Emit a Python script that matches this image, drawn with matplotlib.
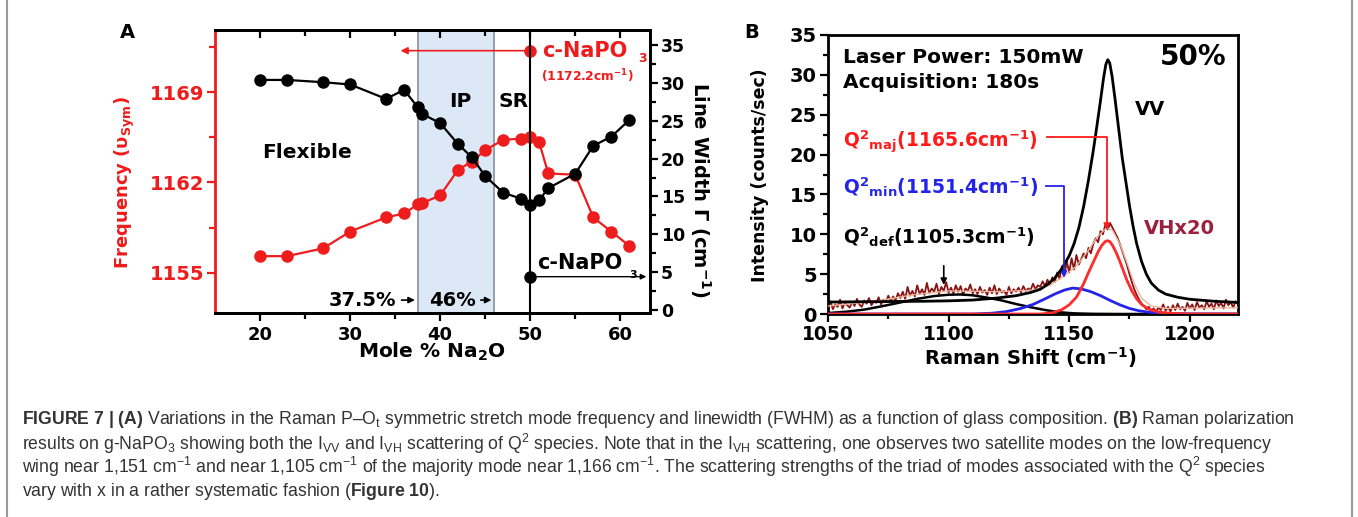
import numpy as np
import matplotlib
matplotlib.use('Agg')
import matplotlib.pyplot as plt
from matplotlib.ticker import FixedLocator, MultipleLocator

plt.rcParams['font.family'] = ['DejaVu Sans']
plt.rcParams['font.weight'] = 'bold'
plt.rcParams['mathtext.fontset'] = 'custom'
plt.rcParams['mathtext.rm'] = 'Liberation Sans:weight=normal'
plt.rcParams['mathtext.it'] = 'Liberation Sans:italic:weight=normal'
plt.rcParams['mathtext.bf'] = 'DejaVu Sans:bold'
plt.rcParams['mathtext.sf'] = 'Liberation Sans:bold'

RED = '#ee1c1c'
BLUE = '#2424e8'
DARKRED = '#8b1212'

# ---- panel A : mode frequency and line width vs composition ----
comp = [20, 23, 27, 30, 34, 36, 37.5, 38, 40, 42, 43.5, 45, 47, 49, 50, 51, 52, 55, 57, 59, 61]
freq = [1156.3, 1156.3, 1156.9, 1158.2, 1159.3, 1159.6, 1160.3, 1160.4, 1161.0, 1163.0, 1163.6,
        1164.5, 1165.3, 1165.4, 1165.5, 1165.1, 1162.7, 1162.6, 1159.3, 1158.2, 1157.1]
width = [30.4, 30.4, 30.1, 29.8, 27.9, 29.1, 26.8, 25.9, 24.7, 21.9, 20.2, 17.7, 15.5, 14.7,
         13.9, 14.5, 16.1, 18.0, 21.7, 22.9, 25.1]
cryst_comp = 50
cryst_freq = 1172.2
cryst_width = 4.4

# ---- panel B : Raman spectra ----
vv_x = [1050, 1070, 1090, 1100, 1110, 1120, 1128, 1134, 1138, 1141, 1144, 1147, 1150, 1152, 1154,
        1156, 1158, 1160, 1161.5, 1163, 1164.2, 1165.2, 1166, 1166.8, 1167.8, 1169, 1170.5, 1172,
        1173.5, 1175, 1176.5, 1178, 1180, 1182, 1184, 1187, 1190, 1195, 1200, 1210, 1220]
vv_y = [1.5, 1.55, 1.6, 1.65, 1.75, 2.0, 2.3, 2.7, 3.1, 3.7, 4.5, 5.7, 7.3, 8.8, 10.8,
        13.5, 16.8, 20.5, 23.6, 26.8, 29.5, 31.3, 31.9, 31.5, 29.8, 27.0, 23.3, 19.6,
        16.6, 13.6, 11.0, 8.8, 6.6, 5.0, 3.9, 3.0, 2.5, 2.1, 1.85, 1.6, 1.45]

vh_x = np.arange(1050, 1221)
vh_y = [0.8, 1.6, 0.6, 1.2, 0.9, 1.8, 0.7, 1.4, 1.1, 0.8,
        1.5, 1.0, 1.9, 1.2, 0.9, 1.7, 1.3, 2.0, 1.1, 1.6,
        1.4, 2.1, 1.2, 1.8, 1.5, 2.3, 1.6, 2.2, 1.7, 2.6,
        2.0, 2.8, 1.9, 3.4, 2.3, 2.9, 2.2, 3.6, 2.5, 3.1,
        2.4, 3.9, 2.6, 3.2, 2.8, 3.8, 2.5, 3.4, 2.9, 4.0,
        2.7, 3.3, 2.6, 3.6, 2.8, 3.5, 2.4, 3.2, 2.9, 3.7,
        2.6, 3.1, 2.5, 3.4, 2.7, 3.0, 2.4, 3.3, 2.6, 3.6,
        2.5, 3.2, 2.7, 2.9, 2.4, 3.4, 2.6, 3.1, 2.8, 3.3,
        2.7, 3.5, 2.9, 3.2, 3.0, 3.8, 3.1, 3.6, 3.4, 4.1,
        3.5, 4.3, 3.7, 4.6, 4.0, 5.2, 4.4, 6.0, 4.8, 6.6,
        5.2, 7.0, 5.6, 7.4, 6.2, 6.9, 7.6, 7.0, 8.3, 7.6,
        8.8, 9.5, 9.0, 10.4, 10.0, 11.2, 10.6, 11.4, 10.8, 10.2,
        9.6, 8.8, 7.9, 7.0, 6.1, 5.0, 4.0, 3.1, 2.4, 1.8,
        1.3, 1.0, 0.6, 0.9, 0.4, 0.7, 0.3, 0.8, 0.5, 1.2,
        0.4, 0.9, 0.3, 1.1, 0.5, 1.3, 0.6, 0.9, 0.4, 1.4,
        0.7, 1.2, 0.5, 1.5, 0.8, 1.1, 0.6, 1.6, 0.9, 1.3,
        0.6, 1.7, 1.0, 1.4, 0.7, 1.8, 1.1, 1.5, 0.8, 1.6,
        1.2]

fit_x = [1050, 1070, 1085, 1100, 1120, 1135, 1142, 1148, 1153, 1158, 1162, 1165.5, 1168, 1171,
         1174, 1177, 1180, 1184, 1190, 1220]
fit_y = [1.0, 1.6, 2.4, 2.9, 2.8, 3.0, 3.6, 4.8, 6.0, 8.0, 9.8, 10.8, 10.5, 8.8,
         6.4, 3.8, 2.0, 1.0, 0.7, 0.8]

def_x = [1050, 1058, 1065, 1072, 1080, 1087, 1094, 1100, 1105, 1110, 1116, 1122, 1128, 1134,
         1140, 1146, 1152, 1160, 1170, 1220]
def_y = [0.12, 0.3, 0.55, 0.95, 1.45, 1.9, 2.25, 2.42, 2.45, 2.35, 2.05, 1.7, 1.25, 0.85,
         0.5, 0.22, 0.08, 0.02, 0.0, 0.0]

min_x = [1050, 1110, 1118, 1124, 1130, 1135, 1140, 1144, 1148, 1151.4, 1155, 1159, 1163, 1167,
         1171, 1175, 1179, 1184, 1190, 1200, 1220]
min_y = [0.0, 0.0, 0.1, 0.3, 0.7, 1.2, 1.9, 2.5, 3.0, 3.25, 3.15, 2.8, 2.3, 1.7,
         1.15, 0.7, 0.4, 0.18, 0.06, 0.0, 0.0]

maj_x = [1050, 1138, 1143, 1147, 1150, 1153, 1156, 1158, 1160, 1162, 1163.5, 1165, 1165.8,
         1166.8, 1168, 1169.5, 1171, 1172.5, 1174, 1176, 1178, 1180, 1183, 1187, 1192, 1200, 1220]
maj_y = [0.0, 0.0, 0.15, 0.55, 1.15, 2.1, 3.8, 5.2, 6.5, 7.8, 8.6, 9.1, 9.2,
         9.1, 8.6, 7.7, 6.6, 5.4, 4.2, 2.9, 1.9, 1.2, 0.6, 0.25, 0.08, 0.0, 0.0]

W, H = 1358, 517
fig = plt.figure(figsize=(W / 100, H / 100), dpi=100)


def box(l, t, r, b):
    return [l / W, 1 - b / H, (r - l) / W, (b - t) / H]


# ================= panel A =================
axA = fig.add_axes(box(215, 30, 650, 313))
axA.set_xlim(15, 63.3)
axA.set_ylim(1151.9, 1173.8)
axA.axvspan(37.5, 46, color='#dde8f6', lw=0, zorder=0)
for xv in (37.5, 46):
    axA.axvline(xv, color='#8c99a6', lw=1.3, zorder=1)
axA.plot(comp, freq, '-o', color=RED, ms=8, lw=1.6, zorder=3)
axA.plot([cryst_comp], [cryst_freq], 'o', color=RED, ms=8, zorder=3)
axA.annotate('', xy=(35.3, cryst_freq), xytext=(cryst_comp, cryst_freq),
             arrowprops=dict(arrowstyle='-|>', color=RED, lw=1.2, mutation_scale=10))

axA.xaxis.set_major_locator(FixedLocator([20, 30, 40, 50, 60]))
axA.xaxis.set_minor_locator(FixedLocator([25, 35, 45, 55]))
axA.yaxis.set_major_locator(FixedLocator([1155, 1162, 1169]))
axA.yaxis.set_minor_locator(FixedLocator([1151.5, 1158.5, 1165.5, 1172.5]))
axA.tick_params(axis='x', which='major', direction='out', length=6, width=1.6, labelsize=13, pad=3)
axA.tick_params(axis='x', which='minor', direction='out', length=4, width=1.6)
axA.tick_params(axis='y', which='major', direction='out', length=6, width=1.6, labelsize=14,
                colors=RED, pad=2)
axA.tick_params(axis='y', which='minor', direction='out', length=4, width=1.6, colors=RED)
for s in axA.spines.values():
    s.set_linewidth(2)
axA.spines['left'].set_color(RED)

axW = axA.twinx()
axW.set_ylim(-0.4, 37)
axW.axvline(cryst_comp, color='k', lw=1.5, zorder=2)
axW.plot(comp, width, '-o', color='k', ms=8, lw=1.6, zorder=4)
axW.plot([cryst_comp], [cryst_width], 'o', color='k', ms=8, zorder=4)
axW.annotate('', xy=(63.2, cryst_width), xytext=(cryst_comp, cryst_width),
             arrowprops=dict(arrowstyle='-|>', color='k', lw=1.0, mutation_scale=8))
axW.yaxis.set_major_locator(MultipleLocator(5))
axW.yaxis.set_minor_locator(MultipleLocator(2.5))
axW.tick_params(axis='y', which='major', direction='out', length=6, width=1.6, labelsize=12.5, pad=2)
axW.tick_params(axis='y', which='minor', direction='out', length=4, width=1.6)
axW.xaxis.set_visible(True)
axW.tick_params(axis='x', which='major', bottom=False, top=True, labelbottom=False,
                labeltop=False, direction='in', length=6, width=1.6)
axW.tick_params(axis='x', which='minor', bottom=False, top=True, direction='in', length=4, width=1.6)
for s in axW.spines.values():
    s.set_linewidth(2)
axW.spines['left'].set_visible(False)

axW.text(42.2, 27.5, 'IP', fontsize=14.5, ha='center', va='center')
axW.text(48.1, 27.5, 'SR', fontsize=14.5, ha='center', va='center')
axA.text(25.2, 1164.3, 'Flexible', fontsize=14.5, ha='center', va='center')
axA.text(51.3, cryst_freq, 'c-NaPO', fontsize=15, color=RED, ha='left', va='center')
axA.text(62.5, 1171.6, '3', fontsize=9, color=RED, ha='center', va='center')
axA.text(51.2, 1170.2, '(1172.2cm$^{\\mathbf{-1}}$)', fontsize=8.8, color=RED, ha='left', va='center')
axW.text(50.8, 6.2, 'c-NaPO', fontsize=15, ha='left', va='center')
axW.text(61.4, 4.6, '3', fontsize=8, ha='center', va='center')
axA.text(31.4, 1152.9, '37.5%', fontsize=14, ha='center', va='center')
axA.annotate('', xy=(37.5, 1152.9), xytext=(35.4, 1152.9),
             arrowprops=dict(arrowstyle='-|>', color='k', lw=1.2, mutation_scale=9))
axA.text(41.4, 1152.9, '46%', fontsize=14, ha='center', va='center')
axA.annotate('', xy=(46, 1152.9), xytext=(44.2, 1152.9),
             arrowprops=dict(arrowstyle='-|>', color='k', lw=1.2, mutation_scale=9))

axA.text(-0.207, 0.46, 'Frequency (υ$_{\\mathbf{Sym}}$)', transform=axA.transAxes, rotation=90,
         fontsize=13, color=RED, ha='center', va='center')
axA.text(1.115, 0.435, 'Line Width Γ (cm$^{\\mathbf{-1}}$)', transform=axA.transAxes, rotation=270,
         fontsize=14, ha='center', va='center')
axA.text(0.499, -0.138, 'Mole % Na$_{\\mathbf{2}}$O', transform=axA.transAxes,
         fontsize=14.5, ha='center', va='center')

# ================= panel B =================
axB = fig.add_axes(box(828, 35, 1238, 314))
axB.set_xlim(1050, 1220)
axB.set_ylim(0, 35)
axB.plot(vh_x, vh_y, color=DARKRED, lw=1.3, zorder=2)
axB.plot(fit_x, fit_y, color='#e9b49a', lw=1.0, zorder=3)
axB.plot(def_x, def_y, color='k', lw=1.8, zorder=4)
axB.plot(min_x, min_y, color=BLUE, lw=2, zorder=4)
axB.plot(maj_x, maj_y, color='#ff2a2a', lw=2, zorder=4)
axB.plot(vv_x, vv_y, color='k', lw=2, zorder=5)

axB.xaxis.set_major_locator(MultipleLocator(50))
axB.xaxis.set_minor_locator(MultipleLocator(25))
axB.yaxis.set_major_locator(MultipleLocator(5))
axB.yaxis.set_minor_locator(MultipleLocator(2.5))
axB.tick_params(axis='x', which='major', direction='out', length=6, width=1.6, labelsize=13.5, pad=2)
axB.tick_params(axis='y', which='major', direction='out', length=6, width=1.6, labelsize=14, pad=2)
axB.tick_params(which='minor', direction='out', length=3.5, width=1.6)
for s in axB.spines.values():
    s.set_linewidth(2)

axB.text(1056.2, 32.2, 'Laser Power: 150mW', fontsize=14.5, ha='left', va='center')
axB.text(1056.2, 29.1, 'Acquisition: 180s', fontsize=14.5, ha='left', va='center')
axB.text(1201.5, 32.2, '50%', fontsize=20, ha='center', va='center')
axB.text(1183.4, 25.6, 'VV', fontsize=14, ha='center', va='center')
axB.text(1195.9, 10.7, 'VHx20', fontsize=14, color='#9c1f3e', ha='center', va='center')

axB.text(1056.2, 21.7, 'Q$^{\\mathbf{2}}{}_{\\mathbf{maj}}$(1165.6cm$^{\\mathbf{-1}}$)',
         fontsize=13.5, color='#ff1a1a', ha='left', va='center')
axB.plot([1141, 1165.6, 1165.6], [22.2, 22.2, 11.5], color='#ff1a1a', lw=1.3, zorder=6)
axB.annotate('', xy=(1165.6, 10.2), xytext=(1165.6, 11.8),
             arrowprops=dict(arrowstyle='-|>', color='#ff1a1a', lw=1.2, mutation_scale=9))

axB.text(1056.2, 15.9, 'Q$^{\\mathbf{2}}{}_{\\mathbf{min}}$(1151.4cm$^{\\mathbf{-1}}$)',
         fontsize=13.5, color=BLUE, ha='left', va='center')
axB.plot([1140.5, 1147.8, 1147.8], [16.1, 16.1, 5.5], color=BLUE, lw=1.3, zorder=6)
axB.annotate('', xy=(1147.8, 4.2), xytext=(1147.8, 5.8),
             arrowprops=dict(arrowstyle='-|>', color=BLUE, lw=1.2, mutation_scale=9))

axB.text(1056.2, 9.6, 'Q$^{\\mathbf{2}}{}_{\\mathbf{def}}$(1105.3cm$^{\\mathbf{-1}}$)',
         fontsize=13.5, color='k', ha='left', va='center')
axB.annotate('', xy=(1098, 3.3), xytext=(1098, 6.4),
             arrowprops=dict(arrowstyle='-|>', color='k', lw=1.2, mutation_scale=9))

axB.text(-0.166, 0.498, 'Intensity (counts/sec)', transform=axB.transAxes, rotation=90,
         fontsize=12.5, ha='center', va='center')
axB.text(0.493, -0.158, 'Raman Shift (cm$^{\\mathbf{-1}}$)', transform=axB.transAxes,
         fontsize=14, ha='center', va='center')

fig.text(127 / W, 1 - 32 / H, 'A', fontsize=14, ha='center', va='center')
fig.text(752 / W, 1 - 32 / H, 'B', fontsize=14, ha='center', va='center')

# ================= caption =================
cap_lines = [
    '$\\mathsf{FIGURE\\ 7\\ |\\ (A)}$ Variations in the Raman P–O$_\\mathrm{t}$ symmetric stretch mode '
    'frequency and linewidth (FWHM) as a function of glass composition. $\\mathsf{(B)}$ Raman polarization',
    'results on g-NaPO$_\\mathrm{3}$ showing both the I$_\\mathrm{VV}$ and I$_\\mathrm{VH}$ scattering of '
    'Q$^\\mathrm{2}$ species. Note that in the I$_\\mathrm{VH}$ scattering, one observes two satellite '
    'modes on the low-frequency',
    'wing near 1,151 cm$^\\mathrm{-1}$ and near 1,105 cm$^\\mathrm{-1}$ of the majority mode near 1,166 cm$^\\mathrm{-1}$. '
    'The scattering strengths of the triad of modes associated with the Q$^\\mathrm{2}$ species',
    'vary with x in a rather systematic fashion ($\\mathsf{Figure\\ 10}$).',
]
cap_y = [420, 444, 467, 492]
cap_texts = [fig.text(22 / W, 1 - y / H, s, fontsize=11, fontweight='normal', color='#333333',
                      family='Liberation Sans', ha='left', va='center')
             for s, y in zip(cap_lines, cap_y)]
fig.canvas.draw()
rend = fig.canvas.get_renderer()
w0 = cap_texts[0].get_window_extent(rend).width
for t in cap_texts:
    t.set_fontsize(11 * 1270 / w0)

# outer frame lines
fig.add_artist(plt.Line2D([7 / W, 7 / W], [0, 1], color='#9a9a9a', lw=1.5))
fig.add_artist(plt.Line2D([1352 / W, 1352 / W], [0, 1], color='#9a9a9a', lw=1.5))

fig.savefig('out.png', dpi=100)
